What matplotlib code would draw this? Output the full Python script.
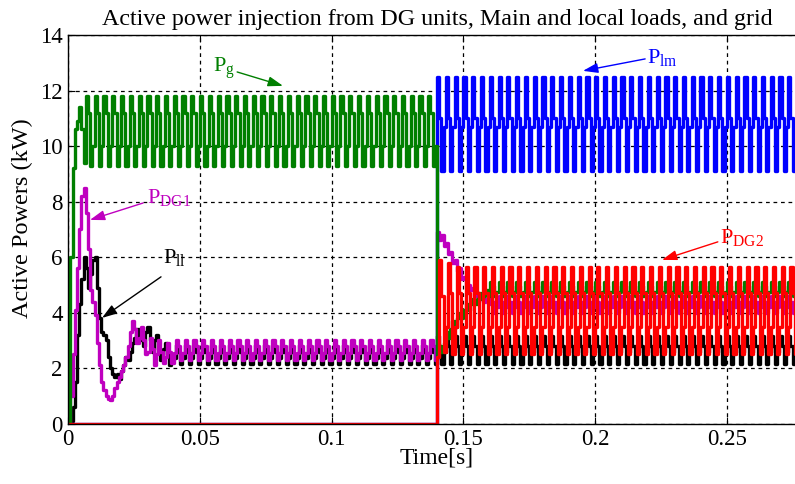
import numpy as np
import matplotlib
matplotlib.use("Agg")
import matplotlib.pyplot as plt

plt.rcParams['font.family'] = ['Liberation Serif', 'DejaVu Serif']
plt.rcParams['mathtext.fontset'] = 'custom'
plt.rcParams['mathtext.rm'] = 'Liberation Serif'

# Sampling: 4 samples per 300 Hz ripple cycle (sample-and-hold display)
dt = 1.0 / 1200.0
t_switch = 0.14
t_end = 0.28

# ---- grid power P_g ----
pg_start = [0.0, 6.0, 9.2, 10.6, 10.9, 11.4, 10.6, 9.4]
pg_cycle = [11.8, 11.2, 9.3, 10.0]
pg_after = [2.4, 2.8, 2.6, 2.9, 3.3, 3.1, 3.4, 3.7, 3.5, 3.8, 4.0, 3.8,
            4.1, 4.3, 4.1, 4.3, 4.5, 4.3, 4.5, 4.7, 4.5, 4.6, 4.8, 4.6]
pg_cycle2 = [5.1, 4.95, 4.6, 4.75]

# ---- main load P_lm ----
plm_before = 0.0
plm_cycle = [12.5, 11.0, 9.1, 10.7]

# ---- DG1 power P_DG1 ----
pdg1_start = [0.0, 1.0, 2.5, 4.1, 5.6, 7.0, 8.2, 8.5, 7.6, 6.3, 4.8, 4.4,
              3.9, 2.9, 2.1, 1.5, 1.2, 1.0, 0.9, 0.85, 1.0, 1.3, 1.5, 1.7,
              1.9, 2.1, 2.4, 2.8, 3.3, 3.7, 3.4, 2.9, 3.1, 3.5, 3.0, 2.5,
              2.6, 3.1, 2.7, 2.1, 2.5, 3.0, 2.6, 2.2, 2.4, 2.9, 2.6, 2.2]
pdg1_cycle = [2.55, 3.0, 2.8, 2.3]
pdg1_after = [6.9, 6.6, 6.8, 6.4, 6.5, 6.1, 6.2, 5.8, 5.9, 5.5, 5.6, 5.2,
              5.3, 5.0, 5.0, 4.8, 4.9, 4.6, 4.7, 4.5, 4.6, 4.4, 4.5, 4.3]
pdg1_cycle2 = [4.6, 4.4, 4.0, 4.2]

# ---- local load P_ll ----
pll_start = [0.0, 0.1, 0.6, 1.5, 3.2, 4.3, 5.2, 6.0, 5.6, 4.9, 5.4, 5.9,
             6.0, 4.9, 3.8, 3.3, 3.2, 3.0, 2.4, 2.0, 1.8, 1.7, 1.8, 1.6,
             1.9, 2.1, 2.4, 2.3, 2.6, 2.9, 3.1, 3.4, 3.0, 3.2, 2.8, 3.3,
             3.5, 3.0, 2.6, 3.0, 3.2, 2.7, 2.3, 2.7, 2.9, 2.5, 2.1, 2.5]
pll_cycle = [2.35, 2.85, 2.6, 2.15]
pll_cycle2 = [3.15, 2.8, 2.15, 2.6]

# ---- DG2 power P_DG2 ----
pdg2_before = 0.0
pdg2_after = [2.4, 5.9, 4.6, 2.6, 3.5, 5.8, 4.7, 2.5]
pdg2_cycle = [3.5, 5.65, 4.7, 2.5]

n_sw = int(round(t_switch / dt))
n_end = int(round(t_end / dt)) + 1
t = np.arange(n_end) * dt


def fill(head, cycle, total):
    """Head samples followed by the repeated ripple cycle up to `total` samples."""
    head = list(head)
    rest = total - len(head)
    reps = rest // len(cycle) + 1
    return np.array(head + list(np.tile(cycle, reps)[:rest]))


pg = np.concatenate([fill(pg_start, pg_cycle, n_sw),
                     fill(pg_after, pg_cycle2, n_end - n_sw)])
plm = np.concatenate([np.full(n_sw, plm_before),
                      fill([], plm_cycle, n_end - n_sw)])
pdg1 = np.concatenate([fill(pdg1_start, pdg1_cycle, n_sw),
                       fill(pdg1_after, pdg1_cycle2, n_end - n_sw)])
pll = np.concatenate([fill(pll_start, pll_cycle, n_sw),
                      fill([], pll_cycle2, n_end - n_sw)])
pdg2 = np.concatenate([np.full(n_sw, pdg2_before),
                       fill(pdg2_after, pdg2_cycle, n_end - n_sw)])

c_green = '#007f00'
c_blue = '#0000ff'
c_mag = '#bf00bf'
c_red = '#ff0000'
c_black = '#000000'

fig = plt.figure(figsize=(7.95, 4.84), dpi=100)
ax = fig.add_axes([0.0859, 0.1246, 0.9277, 0.803])

lw = 2.4
for y, c in [(pll, c_black), (pdg1, c_mag), (plm, c_blue),
             (pg, c_green), (pdg2, c_red)]:
    ax.plot(t, y, color=c, lw=lw, drawstyle='steps-post')

ax.set_xlim(0, 0.28)
ax.set_ylim(0, 14)
xt = [0, 0.05, 0.1, 0.15, 0.2, 0.25]
xtl = ['0', '0.05', '0.1', '0.15', '0.2', '0.25']
ax.set_xticks(xt)
ax.set_xticklabels(xtl)
ax.set_yticks(np.arange(0, 15, 2))
ax.tick_params(direction='in', top=True, right=True, length=5,
               labelsize=16.5, pad=4)
ax.set_axisbelow(True)
ax.grid(True, linestyle=(0, (3, 3)), color='k', linewidth=0.9)
for s in ax.spines.values():
    s.set_linewidth(1.0)

ax.set_title('Active power injection from DG units, Main and local loads, and grid',
             fontsize=17.3, pad=7)
ax.set_xlabel('Time[s]', fontsize=17, labelpad=-2)
ax.set_ylabel('Active Powers (kW)', fontsize=17.5)
ax.yaxis.set_label_coords(-0.048, 0.53)

# Curve labels with arrows
def tag(text, color, xy_text, xy_tail, xy_head):
    ax.text(xy_text[0], xy_text[1], text, color=color, fontsize=16,
            ha='left', va='baseline')
    ax.annotate('', xy=xy_head, xytext=xy_tail,
                arrowprops=dict(arrowstyle='-|>,head_length=0.9,head_width=0.3',
                                color=color, lw=1.0, shrinkA=0, shrinkB=0))

tag(r'$\mathregular{P_g}$', c_green, (0.055, 12.67), (0.0641, 12.67), (0.0815, 12.17))
tag(r'$\mathregular{P_{lm}}$', c_blue, (0.2196, 13.0), (0.219, 13.14), (0.1954, 12.71))
tag(r'$\mathregular{P_{DG1}}$', c_mag, (0.0299, 7.95), (0.0284, 7.95), (0.0082, 7.34))
tag(r'$\mathregular{P_{ll}}$', c_black, (0.036, 5.8), (0.0352, 5.29), (0.0128, 3.81))
tag(r'$\mathregular{P_{DG2}}$', c_red, (0.2474, 6.5), (0.2466, 6.55), (0.2254, 5.9))

fig.savefig('out.png', dpi=100)
